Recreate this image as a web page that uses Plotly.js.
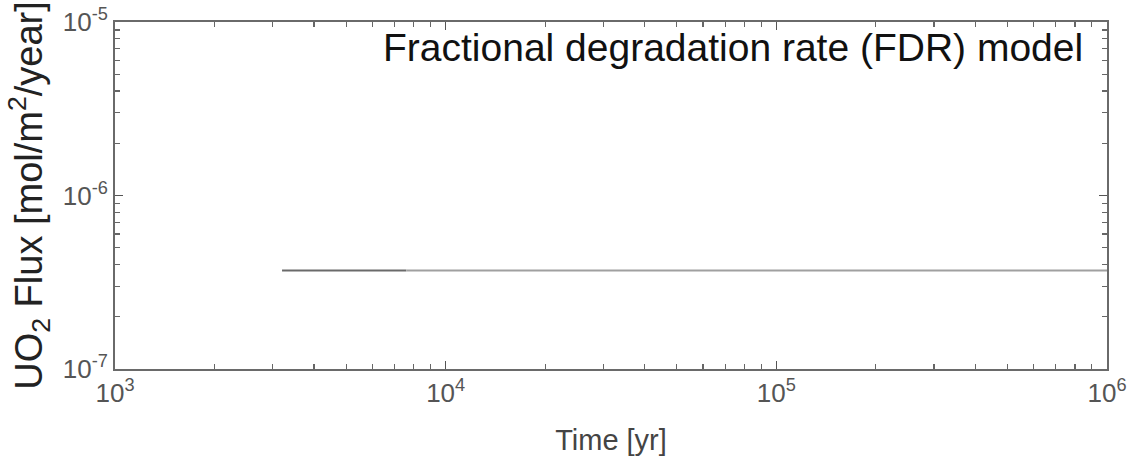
<!DOCTYPE html>
<html><head><meta charset="utf-8">
<script src="https://cdn.plot.ly/plotly-3.0.1.min.js"></script>
<style>body{margin:0;background:#fff}#c{width:1144px;height:457px}</style>
</head><body><div id="c"></div>
<script>
const earlyTime = [3200, 7600];
const earlyFlux = [3.7e-7, 3.7e-7];
const lateTime = [7600, 1e6];
const lateFlux = [3.7e-7, 3.7e-7];
const xTicks = [1e3, 1e4, 1e5, 1e6];
const xTickText = ['10<sup>3</sup>', '10<sup>4</sup>', '10<sup>5</sup>', '10<sup>6</sup>'];
const yTicks = [1e-7, 1e-6, 1e-5];
const yTickText = ['10<sup>-7</sup>', '10<sup>-6</sup>', '10<sup>-5</sup>'];

const FONT = '"Liberation Sans", Arial, sans-serif';
const traces = [
  {x: earlyTime, y: earlyFlux, mode: 'lines', line: {color: '#6a6a6a', width: 2}, showlegend: false},
  {x: lateTime, y: lateFlux, mode: 'lines', line: {color: '#a0a0a0', width: 2}, showlegend: false}
];
function axis(extra) {
  return Object.assign({
    type: 'log', showline: true, linecolor: '#6a6a6a', linewidth: 2, mirror: 'ticks',
    ticks: 'inside', ticklen: 8, tickcolor: '#555', tickwidth: 1.5,
    minor: {dtick: 'D1', ticks: 'inside', ticklen: 5, tickcolor: '#666', tickwidth: 1.2, showgrid: false},
    showgrid: false, zeroline: false,
    tickfont: {family: FONT, size: 26, color: '#555'}
  }, extra);
}
const layout = {
  width: 1144, height: 457,
  margin: {l: 115, r: 37, t: 22, b: 88},
  paper_bgcolor: '#fff', plot_bgcolor: '#fff',
  font: {family: FONT, size: 22, color: '#555'},
  xaxis: axis({
    range: [3, 6], tickmode: 'array', tickvals: xTicks, ticktext: xTickText,
    title: {text: 'Time [yr]', font: {family: FONT, size: 29, color: '#444'}, standoff: 22}
  }),
  yaxis: axis({
    range: [-7, -5], tickmode: 'array', tickvals: yTicks, ticktext: yTickText,
    title: {text: 'UO<sub>2</sub> Flux [mol/m<sup>2</sup>/year]', font: {family: FONT, size: 38, color: '#222'}, standoff: 8}
  }),
  annotations: [{
    text: 'Fractional degradation rate (FDR) model', xref: 'paper', yref: 'paper',
    x: 0.978, y: 0.995, xanchor: 'right', yanchor: 'top', showarrow: false,
    font: {family: FONT, size: 39, color: '#111'}
  }]
};
Plotly.newPlot('c', traces, layout, {staticPlot: true});
</script></body></html>
